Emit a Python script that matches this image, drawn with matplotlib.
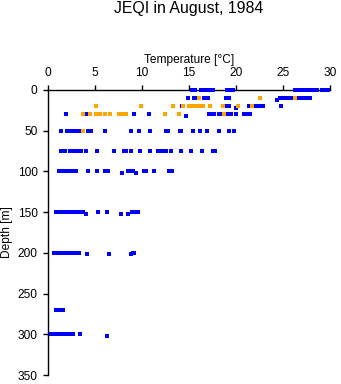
import matplotlib
matplotlib.use("Agg")
import matplotlib.pyplot as plt

plt.rcParams['font.family'] = ['Liberation Sans', 'DejaVu Sans']

# Blue series: (depth m, temperatures °C)
blue_rows = [
    (0, [15.3, 15.6, 16.3, 16.5, 16.7, 16.9, 17.1, 17.3, 17.6, 19.0, 19.2, 19.5, 19.7,
         26.3, 26.5, 26.7, 26.9, 27.1, 27.3, 27.5, 27.8, 28.1, 28.4, 28.6, 29.2, 29.4, 29.8]),
    (10, [14.9, 15.5, 15.8, 16.6, 16.8, 17.0, 18.9, 19.3, 24.7, 25.0, 25.3, 25.6, 25.9,
          26.7, 27.0, 27.3, 27.6, 27.9]),
    (12, [24.4]),
    (20, [14.3, 18.9, 19.1, 19.3, 21.4, 22.0, 22.3, 22.6, 22.9, 24.8]),
    (22, [20.0]),
    (30, [1.9, 4.1, 9.1, 10.7, 17.1, 17.3, 17.7, 18.2, 18.4, 19.1, 19.3, 19.5, 20.0,
          20.8, 21.0, 21.2, 21.5]),
    (32, [14.7]),
    (50, [1.4, 2.0, 2.2, 2.7, 2.9, 3.1, 3.3, 3.5, 4.3, 4.6, 6.1, 8.8, 9.7, 10.8, 12.6,
          12.8, 14.0, 14.2, 15.4, 16.2, 16.9, 18.2, 19.3, 19.8]),
    (75, [1.4, 1.8, 2.3, 2.5, 2.7, 2.9, 3.1, 3.5, 4.0, 5.2, 7.0, 8.1, 8.3, 8.8, 9.8, 10.8,
          11.7, 11.9, 12.1, 12.3, 12.5, 13.1, 14.1, 15.2, 16.4, 17.6, 17.8]),
    (100, [1.2, 1.5, 1.9, 2.1, 2.3, 2.5, 2.7, 2.9, 3.0, 4.3, 5.2, 6.1, 6.4, 8.5, 8.8, 9.0,
           10.2, 10.4, 11.3, 12.9, 13.2]),
    (102, [7.9, 9.4]),
    (150, [0.8, 1.0, 1.2, 1.4, 1.6, 1.8, 2.0, 2.2, 2.4, 2.6, 2.8, 3.2, 3.5, 3.7, 5.3, 6.3,
           8.9, 9.1, 9.3, 9.6]),
    (152, [4.0, 7.8, 8.5]),
    (200, [0.6, 0.8, 1.0, 1.2, 1.4, 1.6, 1.8, 2.0, 2.2, 2.4, 2.9, 3.3, 9.0, 9.2]),
    (202, [4.1, 6.5, 8.8]),
    (270, [0.8, 1.0, 1.2, 1.4, 1.6]),
    (300, [0.3, 0.5, 0.7, 0.9, 1.1, 1.3, 1.5, 1.7, 2.0, 2.2, 2.4, 2.7, 3.4]),
    (302, [6.3]),
]

# Orange series: (depth m, temperatures °C)
orange_rows = [
    (10, [16.1, 22.6, 26.3]),
    (20, [5.1, 9.9, 13.3, 14.4, 15.0, 15.2, 15.4, 15.9, 16.1, 16.3, 16.5, 17.2, 18.6,
          20.2, 21.7]),
    (30, [3.7, 4.5, 5.1, 5.3, 5.5, 6.1, 6.6, 7.5, 7.7, 7.9, 8.1, 8.3, 12.4, 13.9, 18.7]),
    (50, [3.7]),
]

x_ticks = [0, 5, 10, 15, 20, 25, 30]
y_ticks = [0, 50, 100, 150, 200, 250, 300, 350]

fig = plt.figure(figsize=(3.41, 3.84), dpi=100)
ax = fig.add_axes([48/341, 1 - 375/384, 282/341, 285/384])

bx = [t for d, ts in blue_rows for t in ts]
by = [d for d, ts in blue_rows for t in ts]
ox = [t for d, ts in orange_rows for t in ts]
oy = [d for d, ts in orange_rows for t in ts]

ax.plot(bx, by, 's', color='#0000FF', markersize=2.4, markeredgewidth=0,
        clip_on=False, zorder=3)
ax.plot(ox, oy, 's', color='#FFA500', markersize=2.4, markeredgewidth=0,
        clip_on=False, zorder=4)

ax.set_xlim(0, 30)
ax.set_ylim(350, 0)
ax.set_xticks(x_ticks)
ax.set_yticks(y_ticks)
ax.xaxis.tick_top()
ax.xaxis.set_label_position('top')
for s in ['right', 'bottom']:
    ax.spines[s].set_visible(False)
for s in ['left', 'top']:
    ax.spines[s].set_linewidth(1.0)
ax.tick_params(axis='both', direction='out', length=3.8, width=1, labelsize=8.6, pad=3.8)
ax.set_xlabel('Temperature [°C]', fontsize=8.6, labelpad=3)
ax.set_ylabel('Depth [m]', fontsize=8.6, labelpad=3)
fig.text(189/341, 1 - 9/384, 'JEQI in August, 1984', ha='center', va='center', fontsize=11.4)

fig.savefig('out.png', dpi=100)
